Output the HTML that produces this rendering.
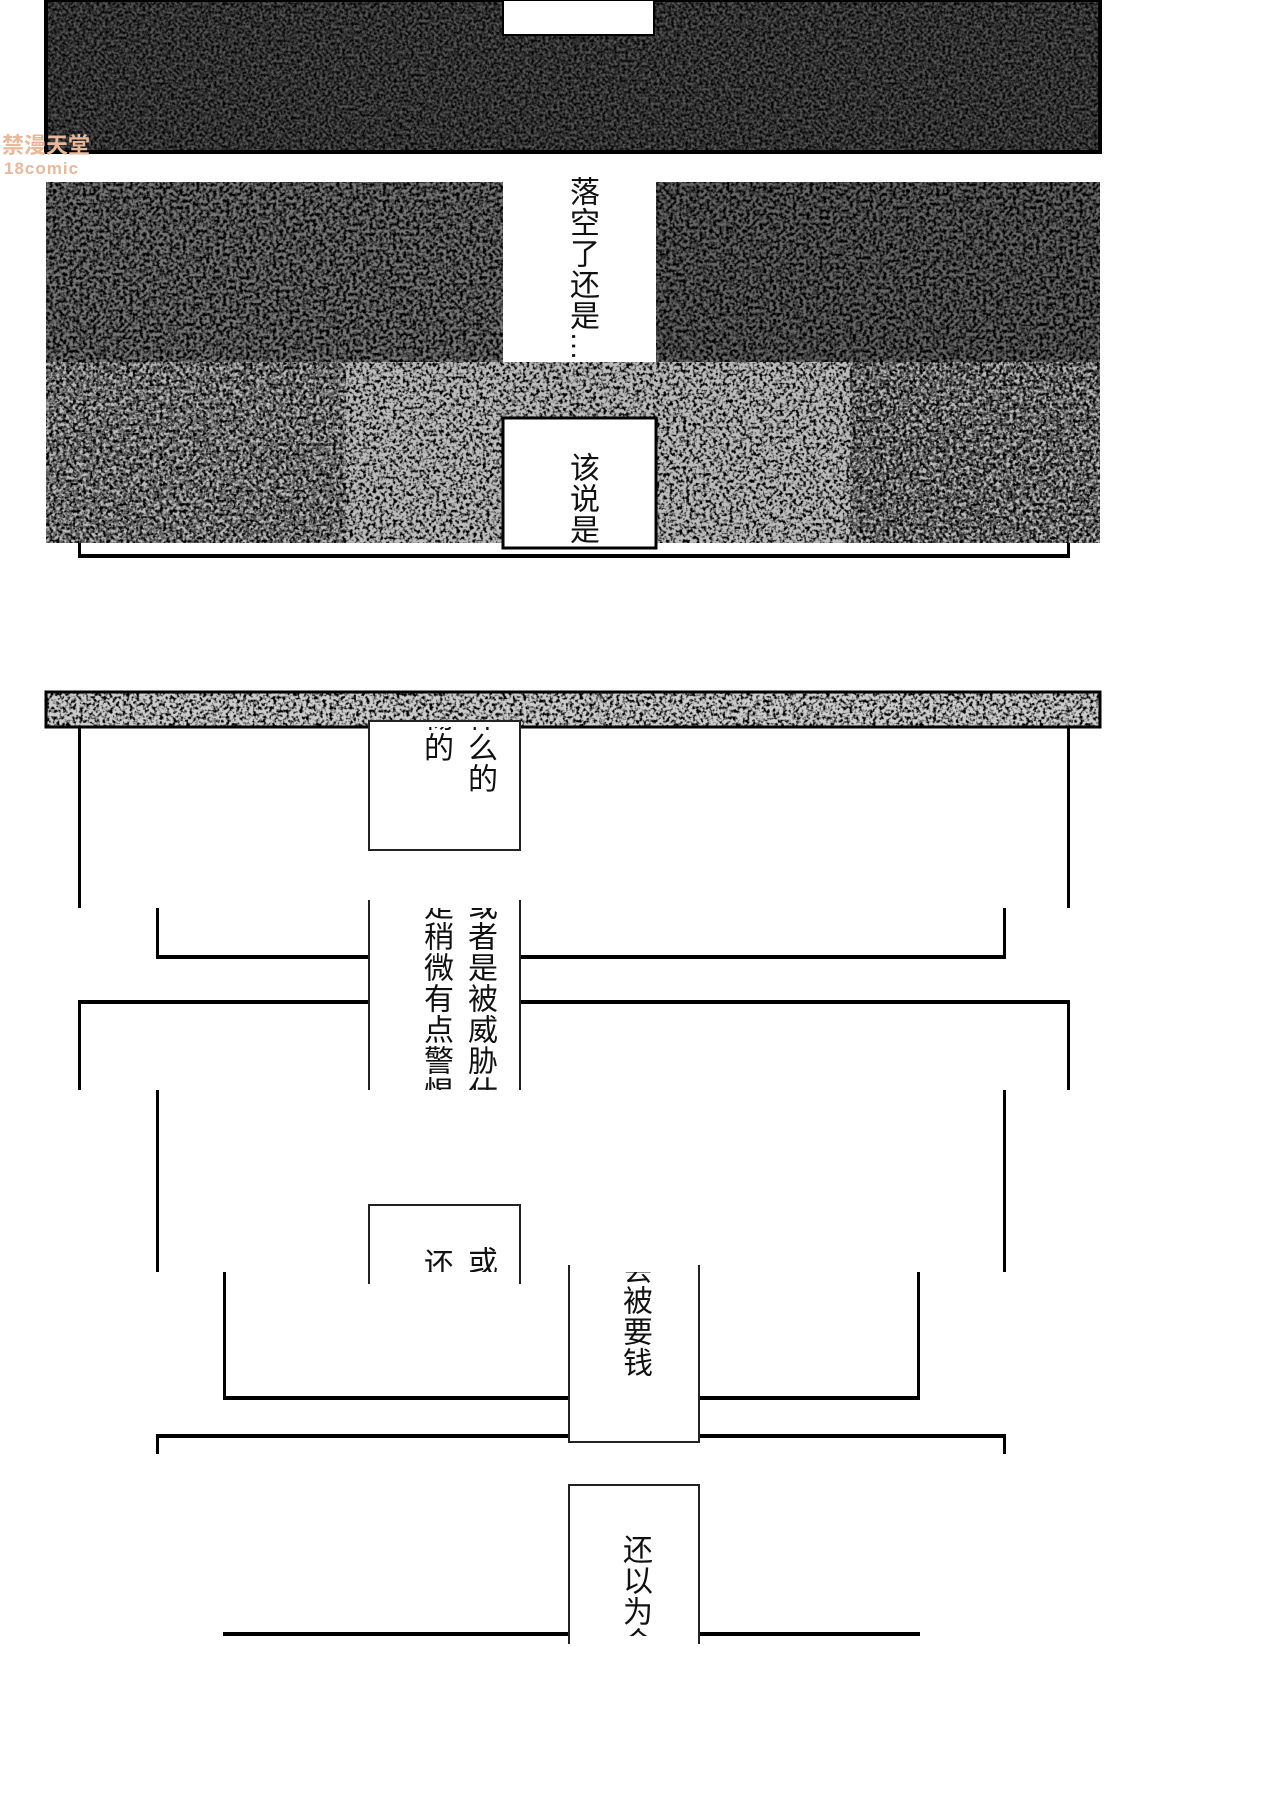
<!DOCTYPE html>
<html><head><meta charset="utf-8">
<style>
html,body{margin:0;padding:0;background:#fff;}
#page{position:relative;width:1280px;height:1812px;overflow:hidden;background:#fff;font-family:"Liberation Sans","Noto Sans CJK SC",sans-serif;}
.abs{position:absolute;}
.ln{position:absolute;background:#000;}
.clip{position:absolute;overflow:hidden;}
.vt{position:absolute;writing-mode:vertical-rl;white-space:nowrap;font-size:30px;line-height:36px;color:#111;letter-spacing:1px;}
.box{position:absolute;background:#fff;border:2px solid #222;box-sizing:border-box;}
</style></head>
<body>
<div id="page">
<svg class="abs" style="left:0;top:0" width="1280" height="1812">
<defs>
<filter id="nDark" x="0" y="0" width="100%" height="100%">
<feTurbulence type="fractalNoise" baseFrequency="0.35" numOctaves="2" seed="3"/>
<feColorMatrix type="matrix" values="0 0 0 0 0  0 0 0 0 0  0 0 0 0 0  0 0 0 -2.2 1.55"/>
</filter>
<filter id="nMid" x="0" y="0" width="100%" height="100%">
<feTurbulence type="fractalNoise" baseFrequency="0.3" numOctaves="2" seed="7"/>
<feColorMatrix type="matrix" values="0 0 0 0 0  0 0 0 0 0  0 0 0 0 0  0 0 0 -3 1.9"/>
</filter>
<filter id="nLight" x="0" y="0" width="100%" height="100%">
<feTurbulence type="fractalNoise" baseFrequency="0.3" numOctaves="2" seed="11"/>
<feColorMatrix type="matrix" values="0 0 0 0 0  0 0 0 0 0  0 0 0 0 0  0 0 0 -4 2.2"/>
</filter>
</defs>
<g>
<rect x="46" y="0" width="1054" height="152" fill="#555"/>
<rect x="46" y="0" width="1054" height="152" filter="url(#nDark)"/>
<rect x="46" y="0" width="1054" height="152" fill="none" stroke="#000" stroke-width="4"/>
<rect x="503" y="0" width="151" height="35" fill="#fff" stroke="#000" stroke-width="2"/>
</g>
<g>
<rect x="46" y="182" width="457" height="180" fill="#777"/>
<rect x="46" y="182" width="457" height="180" filter="url(#nMid)"/>
<rect x="656" y="182" width="444" height="180" fill="#666"/>
<rect x="656" y="182" width="444" height="180" filter="url(#nMid)"/>
</g>
<g>
<rect x="46" y="362" width="1054" height="181" fill="#bbb"/>
<rect x="46" y="362" width="1054" height="181" filter="url(#nLight)"/>
<rect x="46" y="362" width="300" height="181" filter="url(#nMid)" opacity="0.6"/>
<rect x="850" y="362" width="250" height="181" filter="url(#nMid)" opacity="0.7"/>
<rect x="503" y="418" width="153" height="130" fill="#fff" stroke="#000" stroke-width="3"/>
</g>
<g>
<rect x="46" y="692" width="1054" height="35" fill="#ccc"/>
<rect x="46" y="692" width="1054" height="35" filter="url(#nLight)"/>
<rect x="46" y="692" width="1054" height="35" fill="none" stroke="#000" stroke-width="3"/>
</g>
</svg>

<div class="ln" style="left:78px;top:543px;width:3px;height:14px"></div>
<div class="ln" style="left:1067px;top:543px;width:3px;height:14px"></div>
<div class="ln" style="left:78px;top:554px;width:992px;height:4px"></div>

<div class="vt" style="left:563px;top:176px">落空了还是…</div>
<div class="clip" style="left:540px;top:420px;width:80px;height:123px">
<div class="vt" style="left:23px;top:32px">该说是</div></div>

<div class="ln" style="left:78px;top:727px;width:3px;height:181px"></div>
<div class="ln" style="left:1067px;top:727px;width:3px;height:181px"></div>
<div class="box" style="left:368px;top:720px;width:153px;height:131px"></div>
<div class="clip" style="left:400px;top:727px;width:110px;height:100px">
<div class="vt" style="left:61px;top:-26px">什么的</div>
<div class="vt" style="left:17px;top:-26px">惕的</div></div>

<div class="ln" style="left:156px;top:908px;width:3px;height:50px"></div>
<div class="ln" style="left:1003px;top:908px;width:3px;height:50px"></div>
<div class="ln" style="left:156px;top:955px;width:850px;height:4px"></div>
<div class="ln" style="left:78px;top:1000px;width:992px;height:4px"></div>
<div class="ln" style="left:78px;top:1000px;width:3px;height:90px"></div>
<div class="ln" style="left:1067px;top:1000px;width:3px;height:90px"></div>
<div class="box" style="left:368px;top:900px;width:153px;height:190px;border-top:none;border-bottom:none"></div>
<div class="clip" style="left:400px;top:908px;width:110px;height:182px">
<div class="vt" style="left:61px;top:-18px">或者是被威胁什</div>
<div class="vt" style="left:17px;top:-18px">是稍微有点警惕</div></div>

<div class="ln" style="left:156px;top:1090px;width:3px;height:182px"></div>
<div class="ln" style="left:1003px;top:1090px;width:3px;height:182px"></div>
<div class="box" style="left:368px;top:1204px;width:153px;height:80px;border-bottom:none"></div>
<div class="clip" style="left:400px;top:1240px;width:110px;height:32px">
<div class="vt" style="left:61px;top:6px">或</div>
<div class="vt" style="left:17px;top:8px">还</div></div>

<div class="ln" style="left:223px;top:1272px;width:3px;height:127px"></div>
<div class="ln" style="left:917px;top:1272px;width:3px;height:127px"></div>
<div class="ln" style="left:223px;top:1396px;width:697px;height:4px"></div>
<div class="ln" style="left:156px;top:1434px;width:850px;height:4px"></div>
<div class="ln" style="left:156px;top:1434px;width:3px;height:20px"></div>
<div class="ln" style="left:1003px;top:1434px;width:3px;height:20px"></div>
<div class="box" style="left:568px;top:1265px;width:132px;height:178px;border-top:none"></div>
<div class="clip" style="left:600px;top:1272px;width:80px;height:170px">
<div class="vt" style="left:16px;top:-18px">会被要钱</div></div>

<div class="ln" style="left:223px;top:1632px;width:697px;height:4px"></div>
<div class="box" style="left:568px;top:1484px;width:132px;height:160px;border-bottom:none"></div>
<div class="clip" style="left:600px;top:1500px;width:80px;height:136px">
<div class="vt" style="left:16px;top:34px">还以为会</div></div>

<div class="abs" style="left:2px;top:134px;font-size:22px;font-weight:bold;color:#e8b89a;line-height:24px">禁漫天堂</div>
<div class="abs" style="left:4px;top:160px;font-size:17px;font-weight:bold;color:#e8b89a;line-height:18px;letter-spacing:1px">18comic</div>
</div>
</body></html>
